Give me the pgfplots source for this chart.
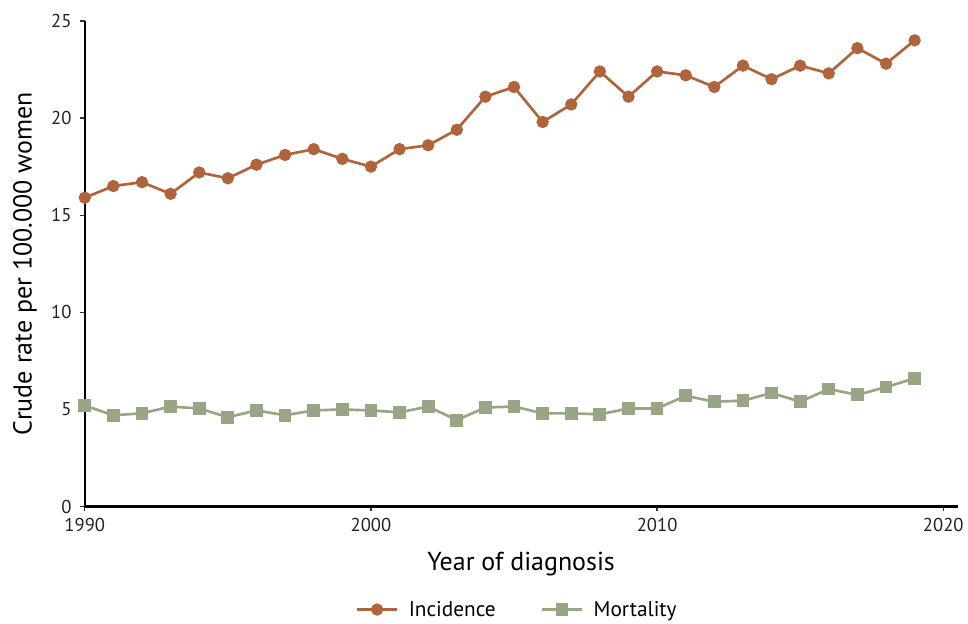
\documentclass[border=0pt]{standalone}
\usepackage{pgfplots}
\pgfplotsset{compat=1.18}
\usepackage{fontspec}
\setmainfont{PT Sans}
\definecolor{inc}{HTML}{B0643C}
\definecolor{mor}{HTML}{98A686}
\definecolor{txt}{HTML}{222222}
\begin{document}
\begin{tikzpicture}
\begin{axis}[
  scale only axis,
  width=656pt, height=365pt,
  xmin=1990, xmax=2020.5, ymin=0, ymax=25,
  axis lines=left,
  axis line style={line width=1.8pt, -},
  xtick={1990,2000,2010,2020},
  ytick={0,5,10,15,20,25},
  tick style={line width=1pt, black!80},
  tick align=outside,
  major tick length=3.5pt,
  xticklabel style={font=\fontsize{14}{16}\selectfont, text=txt, yshift=-2pt},
  yticklabel style={font=\fontsize{14}{16}\selectfont, text=txt, xshift=-3pt},
  /pgf/number format/assume math mode=true,
  /pgf/number format/1000 sep={},
  xlabel={Year of diagnosis},
  ylabel={Crude rate per 100.000 women},
  every axis x label/.style={at={(axis description cs:0.5,-0.119)}, anchor=center, font=\fontsize{19.5}{23}\selectfont},
  every axis y label/.style={at={(axis description cs:-0.0686,0.5)}, anchor=center, rotate=90, font=\fontsize{19.5}{23}\selectfont},
  clip=false,
  legend style={at={(axis description cs:0.5006,-0.212)}, anchor=center, draw=none, legend columns=2,
    font=\fontsize{16}{19}\selectfont,
    nodes={inner xsep=8pt},
    /tikz/every even column/.append style={column sep=26pt}},
  legend image code/.code={\draw[mark repeat=2,mark phase=2,#1] plot coordinates {(0cm,0cm) (0.52cm,0cm) (1.04cm,0cm)};},
  legend cell align=left,
]
\addplot[color=inc, line width=2pt, mark=*, mark size=3.6pt, mark options={fill=inc, draw=inc}] coordinates {
(1990,15.9)(1991,16.5)(1992,16.7)(1993,16.1)(1994,17.2)(1995,16.9)(1996,17.6)(1997,18.1)(1998,18.4)(1999,17.9)
(2000,17.5)(2001,18.4)(2002,18.6)(2003,19.4)(2004,21.1)(2005,21.6)(2006,19.8)(2007,20.7)(2008,22.4)(2009,21.1)
(2010,22.4)(2011,22.2)(2012,21.6)(2013,22.7)(2014,22.0)(2015,22.7)(2016,22.3)(2017,23.6)(2018,22.8)(2019,24.0)
};
\addlegendentry{Incidence}
\addplot[color=mor, line width=2pt, mark=square*, mark size=3.8pt, mark options={fill=mor, draw=mor}] coordinates {
(1990,5.2)(1991,4.7)(1992,4.8)(1993,5.15)(1994,5.05)(1995,4.6)(1996,4.95)(1997,4.7)(1998,4.95)(1999,5.0)
(2000,4.95)(2001,4.85)(2002,5.15)(2003,4.45)(2004,5.1)(2005,5.15)(2006,4.8)(2007,4.8)(2008,4.75)(2009,5.05)
(2010,5.05)(2011,5.7)(2012,5.4)(2013,5.45)(2014,5.85)(2015,5.4)(2016,6.05)(2017,5.75)(2018,6.15)(2019,6.6)
};
\addlegendentry{Mortality}
\path (rel axis cs:-0.0971,1.0431) -- (rel axis cs:1.009,-0.234);
\end{axis}
\end{tikzpicture}
\end{document}
